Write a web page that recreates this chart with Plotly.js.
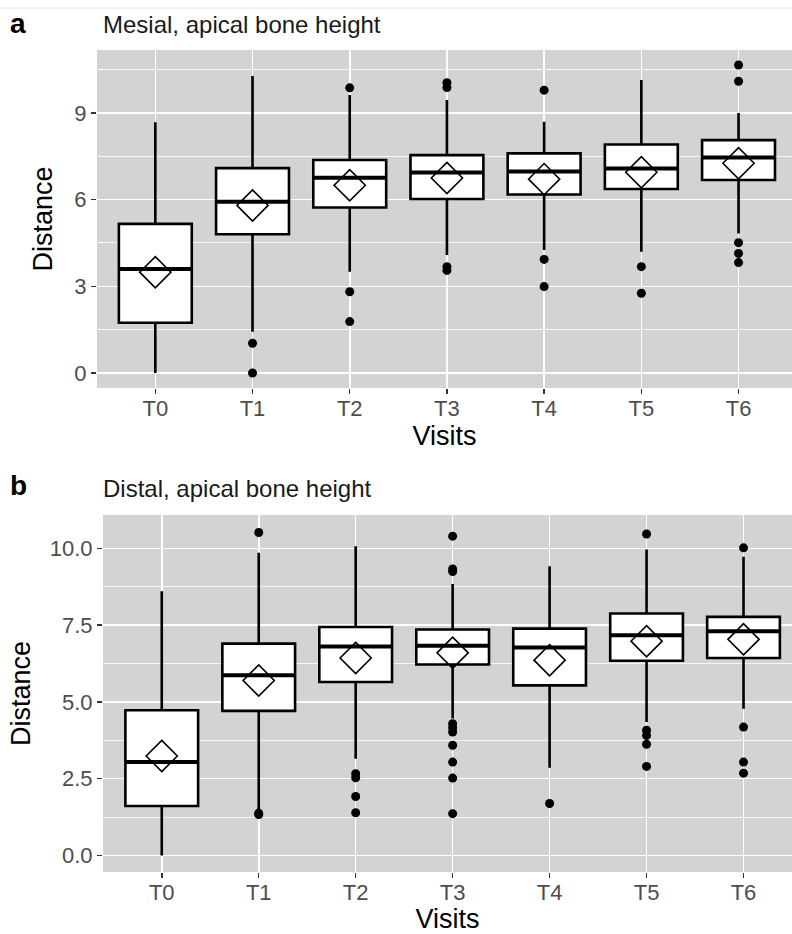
<!DOCTYPE html>
<html><head><meta charset="utf-8">
<script src="https://cdn.plot.ly/plotly-3.0.1.min.js"></script>
<style>html,body{margin:0;padding:0;background:#fff}#chart{width:792px;height:934px}</style>
</head><body><div id="chart"></div><script>
const visits = ['T0','T1','T2','T3','T4','T5','T6'];

// Panel a: Mesial
const mesialQ1     = [1.74, 4.80, 5.73, 6.02, 6.18, 6.37, 6.68];
const mesialMedian = [3.60, 5.93, 6.76, 6.94, 6.97, 7.08, 7.46];
const mesialQ3     = [5.16, 7.09, 7.37, 7.54, 7.60, 7.91, 8.06];
const mesialLower  = [0.00, 1.43, 3.50, 4.08, 4.26, 4.20, 4.83];
const mesialUpper  = [8.68, 10.28, 9.62, 9.45, 8.70, 10.14, 9.00];
const mesialMean   = [3.49, 5.80, 6.50, 6.75, 6.71, 6.95, 7.26];
const mesialOutVisit = ['T1','T1','T2','T2','T2','T3','T3','T3','T3','T4','T4','T4','T5','T5','T6','T6','T6','T6','T6'];
const mesialOutValue = [1.03, 0.00, 9.87, 2.81, 1.78, 10.05, 9.88, 3.68, 3.55, 9.79, 3.93, 2.99, 3.68, 2.76, 10.66, 10.10, 4.51, 4.14, 3.82];

// Panel b: Distal
const distalQ1     = [1.61, 4.71, 5.65, 6.22, 5.54, 6.34, 6.43];
const distalMedian = [3.04, 5.87, 6.81, 6.83, 6.77, 7.17, 7.30];
const distalQ3     = [4.73, 6.90, 7.44, 7.36, 7.39, 7.88, 7.77];
const distalLower  = [0.00, 1.45, 3.15, 4.46, 2.86, 4.35, 4.78];
const distalUpper  = [8.61, 9.86, 10.07, 8.84, 9.42, 9.97, 9.73];
const distalMean   = [3.24, 5.70, 6.43, 6.60, 6.36, 6.98, 7.04];
const distalOutVisit = ['T1','T1','T1','T2','T2','T2','T2','T3','T3','T3','T3','T3','T3','T3','T3','T3','T3','T4','T5','T5','T5','T5','T5','T6','T6','T6','T6'];
const distalOutValue = [10.52, 1.38, 1.33, 2.66, 2.53, 1.92, 1.39, 10.40, 9.33, 9.25, 4.29, 4.16, 4.02, 3.59, 3.04, 2.52, 1.36, 1.69, 10.47, 4.08, 3.91, 3.62, 2.90, 10.02, 4.18, 3.04, 2.68];

const FONT = 'Liberation Sans, Arial, Helvetica, sans-serif';
const BOXW = 0.75;
const idx = visits.map((v, i) => i);
const pos = v => visits.indexOf(v);

function panel(q1, med, q3, lo, hi, mean, outV, outY, xa, ya) {
  const medX = [], medY = [];
  idx.forEach(i => { medX.push(i - BOXW/2, i + BOXW/2, null); medY.push(med[i], med[i], null); });
  return [
    {type:'box', x: idx, q1: q1, median: med, q3: q3, lowerfence: lo, upperfence: hi,
     width: BOXW, fillcolor:'#ffffff', line:{color:'#000', width:2.6}, whiskerwidth:0,
     boxpoints:false, hoverinfo:'skip', showlegend:false, xaxis:xa, yaxis:ya},
    {type:'scatter', mode:'lines', x: medX, y: medY, line:{color:'#000', width:4},
     hoverinfo:'skip', showlegend:false, xaxis:xa, yaxis:ya},
    {type:'scatter', mode:'markers', x: outV.map(pos), y: outY,
     marker:{color:'#000', size:9}, hoverinfo:'skip', showlegend:false, xaxis:xa, yaxis:ya},
    {type:'scatter', mode:'markers', x: idx, y: mean,
     marker:{symbol:'diamond-open', size:24, color:'#000', line:{width:1.6, color:'#000'}},
     hoverinfo:'skip', showlegend:false, xaxis:xa, yaxis:ya}
  ];
}

const data = [].concat(
  panel(mesialQ1, mesialMedian, mesialQ3, mesialLower, mesialUpper, mesialMean, mesialOutVisit, mesialOutValue, 'x', 'y'),
  panel(distalQ1, distalMedian, distalQ3, distalLower, distalUpper, distalMean, distalOutVisit, distalOutValue, 'x2', 'y2')
);

const tickfont = {family: FONT, size: 22, color: '#4d4d4d'};
const titlefont = {family: FONT, size: 27, color: '#000'};
function xaxis(domain, range, anchor, standoff) {
  return {domain: domain, range: range, anchor: anchor, tickmode:'array', tickvals: idx, ticktext: visits,
    showgrid:true, gridcolor:'#ffffff', gridwidth:1.6, zeroline:false, showline:false,
    ticks:'outside', ticklen:5, tickwidth:1.5, tickcolor:'#333', tickfont: tickfont, ticklabelstandoff:-4,
    title:{text:'Visits', font: titlefont, standoff: standoff}, fixedrange:true};
}
function yaxis(domain, range, anchor, dtick, fmt, standoff) {
  return {domain: domain, range: range, anchor: anchor, tickmode:'linear', tick0:0, dtick: dtick, tickformat: fmt,
    showgrid:true, gridcolor:'#ffffff', gridwidth:1.6, zeroline:false, showline:false,
    minor:{tickmode:'linear', tick0:0, dtick: dtick/2, showgrid:true, gridcolor:'#ffffff', gridwidth:0.8, ticks:''},
    ticks:'outside', ticklen:5, tickwidth:1.5, tickcolor:'#333', tickfont: tickfont,
    title:{text:'Distance', font: titlefont, standoff: standoff}, fixedrange:true};
}

const layout = {
  width: 792, height: 934,
  margin: {l:0, r:0, t:0, b:0},
  paper_bgcolor:'#ffffff', plot_bgcolor:'#d3d3d3',
  showlegend:false,
  font:{family: FONT},
  xaxis: xaxis([97/792, 1], [-0.6, 6.55], 'y', 4),
  yaxis: yaxis([1-388/934, 1-50/934], [-0.52, 11.18], 'x', 3, 'd', 13),
  xaxis2: xaxis([103/792, 1], [-0.606, 6.5], 'y2', 8),
  yaxis2: yaxis([1-872/934, 1-515/934], [-0.54, 11.09], 'x2', 2.5, '.1f', 11),
  annotations: [
    {text:'<b>a</b>', xref:'paper', yref:'paper', x: 8/792, y: 1-24/934, xanchor:'left', yanchor:'middle', showarrow:false, font:{family:FONT, size:28, color:'#000'}},
    {text:'Mesial, apical bone height', xref:'paper', yref:'paper', x: 101/792, y: 1-25/934, xanchor:'left', yanchor:'middle', showarrow:false, font:{family:FONT, size:24, color:'#1a1a1a'}},
    {text:'<b>b</b>', xref:'paper', yref:'paper', x: 8/792, y: 1-485/934, xanchor:'left', yanchor:'middle', showarrow:false, font:{family:FONT, size:28, color:'#000'}},
    {text:'Distal, apical bone height', xref:'paper', yref:'paper', x: 101/792, y: 1-489/934, xanchor:'left', yanchor:'middle', showarrow:false, font:{family:FONT, size:24, color:'#1a1a1a'}}
  ],
  shapes: [
    {type:'line', xref:'paper', yref:'paper', x0:0, x1:1, y0:1-8/934, y1:1-8/934, line:{color:'#e6e6e6', width:1}}
  ]
};

Plotly.newPlot('chart', data, layout, {staticPlot:true, displayModeBar:false});
</script></body></html>
